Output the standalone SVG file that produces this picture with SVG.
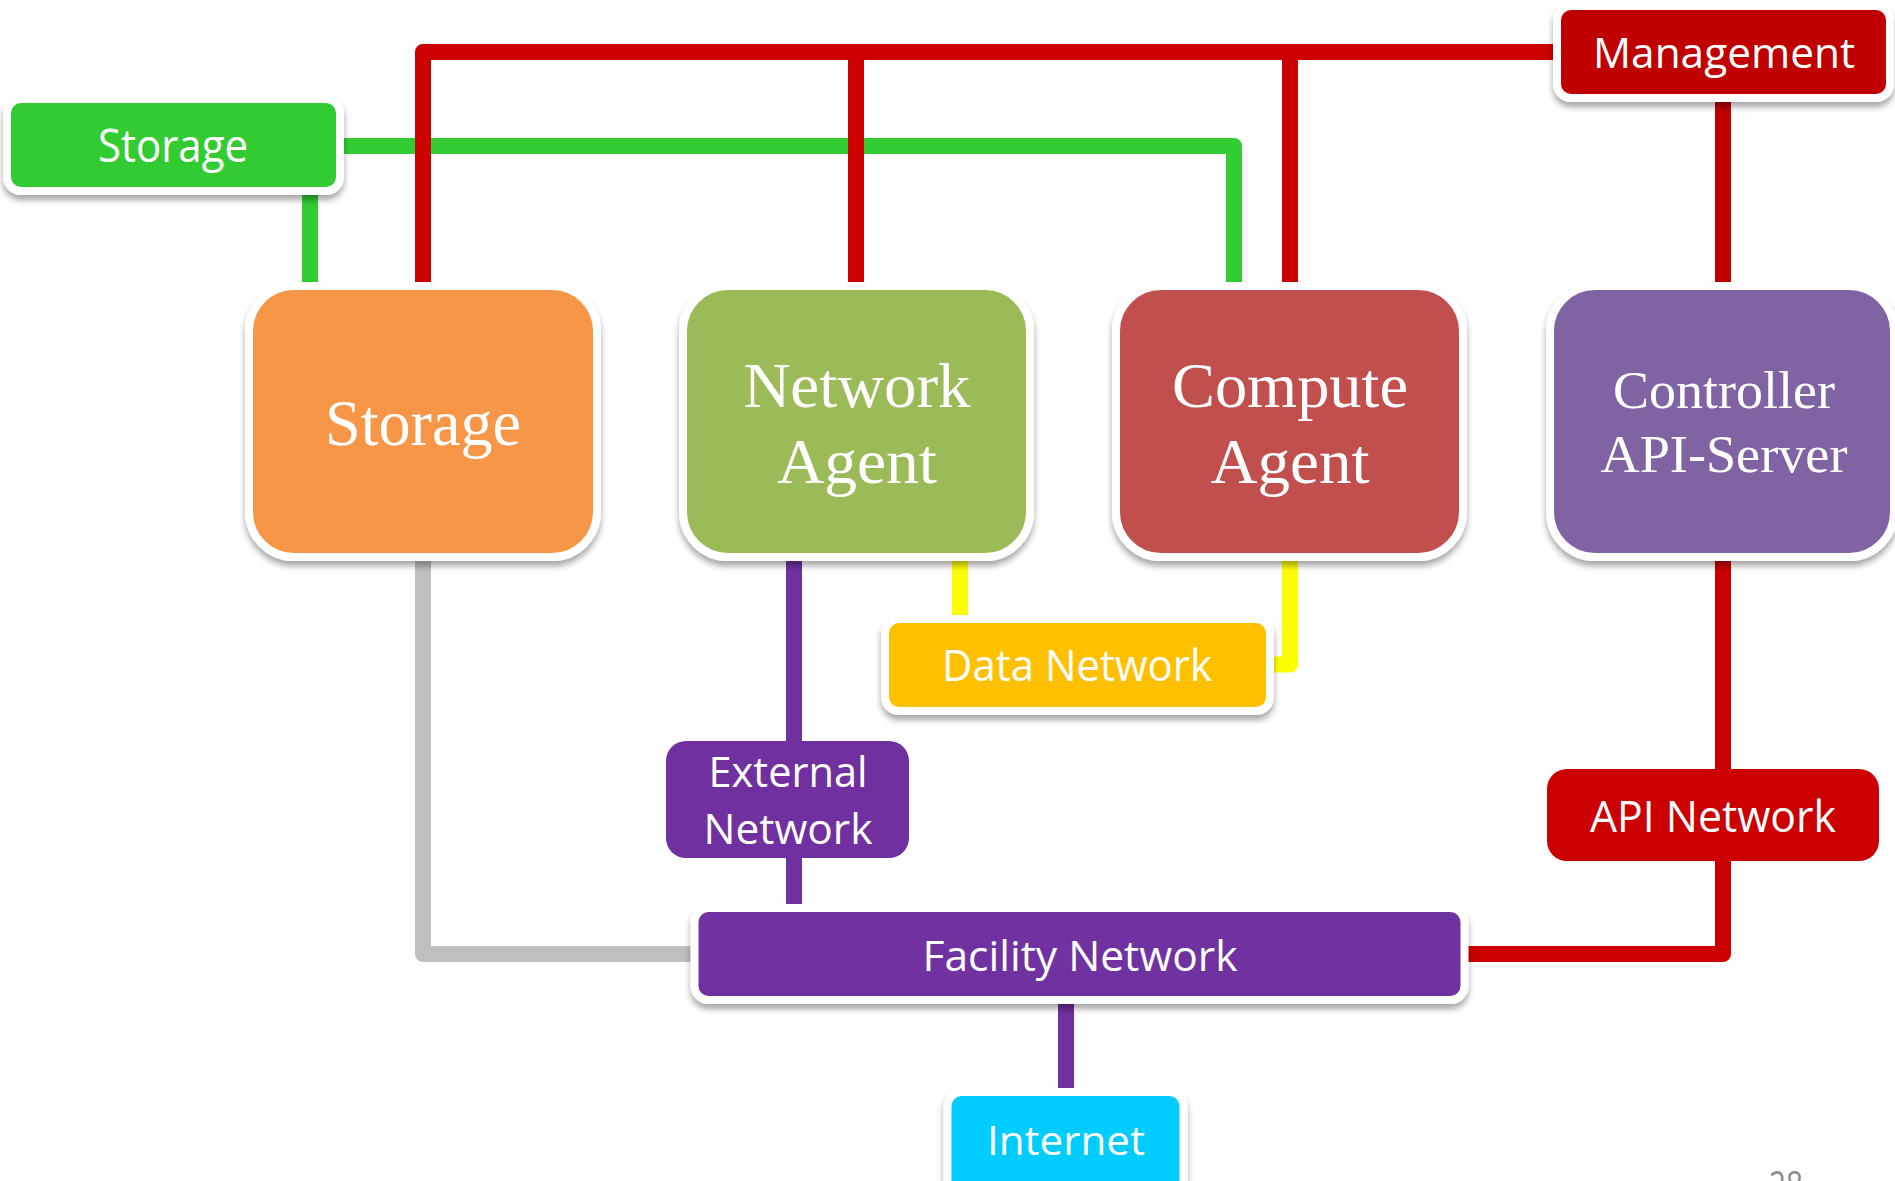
<svg xmlns="http://www.w3.org/2000/svg" width="1895" height="1181" viewBox="0 0 1895 1181">
<defs>
<filter id="sh" x="-10%" y="-10%" width="120%" height="130%">
<feDropShadow dx="0" dy="5" stdDeviation="3" flood-color="#000" flood-opacity="0.35"/>
</filter>
</defs>
<style>
.ln{fill:none;stroke-width:16;stroke-linejoin:round;stroke-linecap:butt}
.big{stroke:#fff;stroke-width:8;filter:url(#sh)}
.lab{stroke:#fff;stroke-width:8;filter:url(#sh)}
.sf{font-family:"Liberation Serif","Times New Roman",serif;fill:#fff;text-anchor:middle}
.ss{font-family:"Open Sans","Noto Sans",sans-serif;fill:#fff;text-anchor:middle}
</style>
<rect width="1895" height="1181" fill="#fff"/>
<g id="connectors">
<path class="ln" stroke="#33CC33" d="M344,146 H1234 V282"/>
<path class="ln" stroke="#33CC33" d="M310,195 V282"/>
<path class="ln" stroke="#CC0000" d="M423,286 V52 H1556"/>
<path class="ln" stroke="#CC0000" d="M856,52 V286"/>
<path class="ln" stroke="#CC0000" d="M1290,52 V286"/>
<path class="ln" stroke="#C00000" d="M1723,102 V282"/>
<path class="ln" stroke="#BFBFBF" d="M423,560 V954 H692"/>
<path class="ln" stroke="#7030A0" d="M794,560 V742"/>
<path class="ln" stroke="#7030A0" d="M794,857 V905"/>
<path class="ln" stroke="#FFFF00" d="M960,560 V616"/>
<path class="ln" stroke="#FFFF00" d="M1290,557 V664.5 H1272"/>
<path class="ln" stroke="#CC0000" d="M1723,560 V770"/>
<path class="ln" stroke="#CC0000" d="M1723,860 V954 H1466"/>
<path class="ln" stroke="#7030A0" d="M1066,1003 V1090"/>
</g>
<g id="storage-net">
<rect class="lab" x="7" y="99" width="333" height="92" rx="14" fill="#33CC33"/>
<text class="ss" x="173" y="162" font-size="45" textLength="150" lengthAdjust="spacingAndGlyphs">Storage</text>
</g>
<g id="management">
<rect class="lab" x="1557" y="6" width="333" height="92" rx="14" fill="#C00000"/>
<text class="ss" x="1724" y="68" font-size="42" textLength="262" lengthAdjust="spacingAndGlyphs">Management</text>
</g>
<g id="storage">
<rect class="big" x="249" y="286" width="348" height="271" rx="45" fill="#F79646"/>
<text class="sf" x="423" y="445" font-size="65" textLength="196" lengthAdjust="spacingAndGlyphs">Storage</text>
</g>
<g id="network-agent">
<rect class="big" x="683" y="286" width="347" height="271" rx="45" fill="#9BBB59"/>
<text class="sf" x="857" y="407" font-size="64" textLength="227" lengthAdjust="spacingAndGlyphs">Network</text>
<text class="sf" x="857" y="483" font-size="64" textLength="160" lengthAdjust="spacingAndGlyphs">Agent</text>
</g>
<g id="compute-agent">
<rect class="big" x="1116" y="286" width="347" height="271" rx="45" fill="#C0504D"/>
<text class="sf" x="1290" y="407" font-size="64" textLength="236" lengthAdjust="spacingAndGlyphs">Compute</text>
<text class="sf" x="1290" y="483" font-size="64" textLength="159" lengthAdjust="spacingAndGlyphs">Agent</text>
</g>
<g id="controller">
<rect class="big" x="1550" y="286" width="344" height="271" rx="45" fill="#8064A2"/>
<text class="sf" x="1724" y="408" font-size="53" textLength="222" lengthAdjust="spacingAndGlyphs">Controller</text>
<text class="sf" x="1724" y="472" font-size="52" textLength="247" lengthAdjust="spacingAndGlyphs">API-Server</text>
</g>
<g id="data-network">
<rect class="lab" x="885" y="619" width="385" height="92" rx="14" fill="#FFC000"/>
<text class="ss" x="1077" y="681" font-size="43" textLength="270" lengthAdjust="spacingAndGlyphs">Data Network</text>
</g>
<g id="external-network">
<rect x="666" y="741" width="243" height="117" rx="20" fill="#7030A0"/>
<text class="ss" x="788" y="787" font-size="42" textLength="159" lengthAdjust="spacingAndGlyphs">External</text>
<text class="ss" x="788" y="844" font-size="42" textLength="169" lengthAdjust="spacingAndGlyphs">Network</text>
</g>
<g id="api-network">
<rect x="1547" y="769" width="332" height="92" rx="20" fill="#CC0000"/>
<text class="ss" x="1713" y="832" font-size="43" textLength="246" lengthAdjust="spacingAndGlyphs">API Network</text>
</g>
<g id="facility-network">
<rect class="lab" x="694.5" y="908" width="770" height="92" rx="14" fill="#7030A0"/>
<text class="ss" x="1080" y="971" font-size="42" textLength="315" lengthAdjust="spacingAndGlyphs">Facility Network</text>
</g>
<g id="internet">
<rect class="lab" x="947.5" y="1092" width="236" height="110" rx="14" fill="#00CCFF"/>
<text class="ss" x="1066" y="1155" font-size="41" textLength="158" lengthAdjust="spacingAndGlyphs">Internet</text>
</g>
<text x="1786" y="1199" font-family="Open Sans, sans-serif" font-size="38" fill="#8C8C8C" text-anchor="middle" textLength="34" lengthAdjust="spacingAndGlyphs">28</text>
</svg>
